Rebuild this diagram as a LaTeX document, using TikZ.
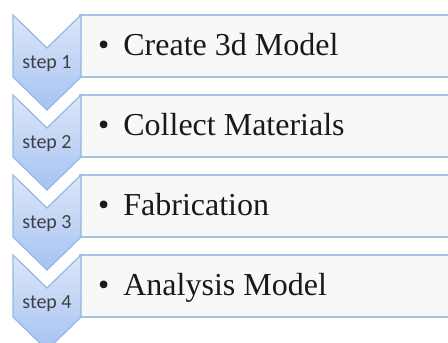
\documentclass[tikz,border=0pt]{standalone}
\usepackage{fontspec}
\setmainfont{Liberation Serif}
\newfontfamily\stepfont{Carlito}
\definecolor{chevline}{HTML}{94B6E6}
\definecolor{chevtop}{HTML}{DCE7F9}
\definecolor{chevbot}{HTML}{A6C2F1}
\definecolor{boxline}{HTML}{A8C2E6}
\definecolor{boxfill}{HTML}{F8F8F8}
\definecolor{steptext}{HTML}{404040}
\begin{document}
\begin{tikzpicture}[x=1pt,y=-1pt,
  chev/.style={draw=chevline, line width=1.2pt, top color=chevtop, bottom color=chevbot, line join=miter},
  itembox/.style={draw=boxline, line width=1.8pt, fill=boxfill},
  steplabel/.style={font=\stepfont\fontsize{20}{20}\selectfont, text=steptext, inner sep=0pt, anchor=base},
  itemtext/.style={font=\fontsize{32}{32}\selectfont, text=black!90, anchor=base west, inner sep=0pt}]
  \useasboundingbox (0,0) rectangle (448,343);
  \clip (0,0) rectangle (448,343);
  \foreach \i/\t/\txt in {1/15/Create 3d Model, 2/95/Collect Materials, 3/175/Fabrication, 4/255/Analysis Model}{
    % item box behind the chevron
    \draw[itembox] (80,\t) rectangle (470,\t+62);
    % chevron arrow
    \draw[chev] (13,\t) -- (47,\t+33) -- (81,\t) -- (81,\t+62) -- (47,\t+95) -- (13,\t+62) -- cycle;
    \node[steplabel] (step\i) at (47,\t+53) {step \i};
    \node[itemtext] (item\i) at (98,\t+40) {•\hspace{14pt}\txt};
  }
\end{tikzpicture}
\end{document}
